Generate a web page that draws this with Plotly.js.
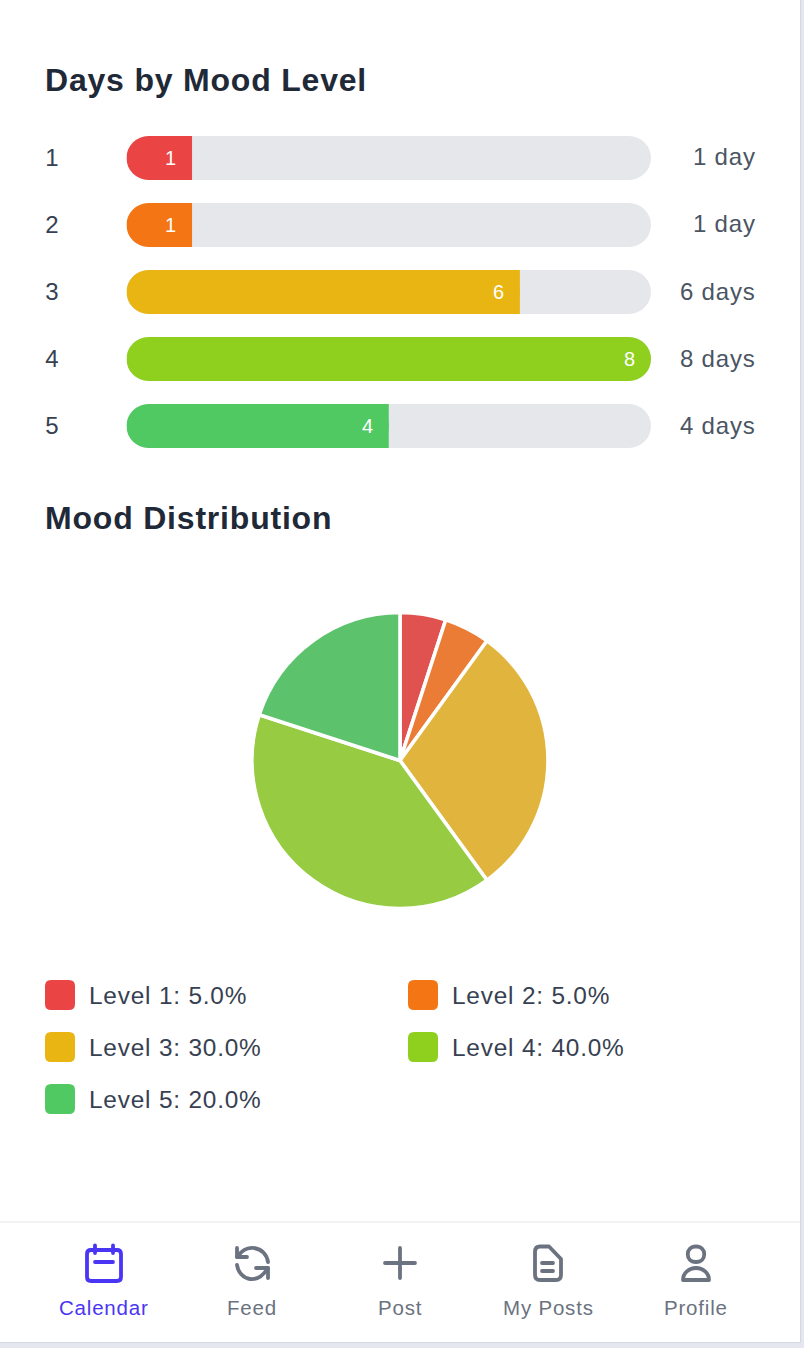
<!DOCTYPE html>
<html><head><meta charset="utf-8">
<script src="https://cdn.plot.ly/plotly-3.0.1.min.js"></script>
<style>html,body{margin:0;padding:0;background:#fff}#c{width:804px;height:1348px}svg text{letter-spacing:.8px}</style>
</head><body><div id="c"></div>
<script>
const W=804,H=1348;
const levels=['1','2','3','4','5'];
const dayCounts=[1,1,6,8,4];
const dayLabels=['1 day','1 day','6 days','8 days','4 days'];
const barColors=['#EA4444','#F47514','#E9B512','#8FD01F','#50C963'];
const pieColors=['#DF524F','#EB7C35','#E1B53D','#96CB42','#5CC26C'];
const legendLabels=['Level 1: 5.0%','Level 2: 5.0%','Level 3: 30.0%','Level 4: 40.0%','Level 5: 20.0%'];
const navLabels=['Calendar','Feed','Post','My Posts','Profile'];
const maxCount=8;
const FONT='"Liberation Sans", Arial, sans-serif';
const px=x=>x/W, py=y=>1-y/H;
const cmd=(c,...a)=>c+a.map((v,i)=>i%2==0?px(v):py(v)).join(',');
function rr(x0,y0,x1,y1,r){return [cmd('M',x0+r,y0),cmd('L',x1-r,y0),cmd('Q',x1,y0,x1,y0+r),cmd('L',x1,y1-r),cmd('Q',x1,y1,x1-r,y1),cmd('L',x0+r,y1),cmd('Q',x0,y1,x0,y1-r),cmd('L',x0,y0+r),cmd('Q',x0,y0,x0+r,y0),'Z'].join(' ');}
const CR=22;
const barBase={type:'bar',orientation:'h',hoverinfo:'skip',showlegend:false};
const traces=[];
traces.push({...barBase,y:levels,x:levels.map(()=>maxCount),base:levels.map(()=>0),marker:{color:'#E5E7EB',cornerradius:CR}});
traces.push({...barBase,y:levels,x:dayCounts,base:levels.map(()=>0),marker:{color:barColors,cornerradius:CR}});
const sq=levels.map((l,i)=>i).filter(i=>dayCounts[i]<maxCount);
traces.push({...barBase,y:sq.map(i=>levels[i]),x:sq.map(i=>dayCounts[i]/2),base:sq.map(i=>dayCounts[i]/2),marker:{color:sq.map(i=>barColors[i])}});
traces.push({type:'pie',values:dayCounts,labels:levels,sort:false,direction:'clockwise',rotation:0,textinfo:'none',hoverinfo:'skip',showlegend:false,
  marker:{colors:pieColors,line:{color:'#fff',width:3.6}},domain:{x:[px(252),px(548)],y:[py(908.5),py(612.5)]}});

const ann=[];
levels.forEach((l,i)=>{
  ann.push({xref:'x',yref:'y',x:dayCounts[i],y:i,text:String(dayCounts[i]),showarrow:false,xanchor:'right',xshift:-13,font:{family:FONT,size:20,color:'#fff'}});
  ann.push({xref:'paper',yref:'y',x:px(755),y:i,text:dayLabels[i],showarrow:false,xanchor:'right',xshift:3,yshift:1,font:{family:FONT,size:24,color:'#4B5563'}});
});
ann.push({xref:'paper',yref:'paper',x:px(45),y:py(518),text:'<b>Mood Distribution</b>',showarrow:false,xanchor:'left',yanchor:'middle',xshift:-2,font:{family:FONT,size:32,color:'#1F2937'}});
const shapes=[];
const legX=[45,408],legY=[995,1047,1099];
legendLabels.forEach((t,i)=>{
  const cx=legX[i%2],cy=legY[Math.floor(i/2)];
  shapes.push({type:'path',xref:'paper',yref:'paper',path:rr(cx,cy-15,cx+30,cy+15,6),fillcolor:barColors[i],line:{width:0}});
  ann.push({xref:'paper',yref:'paper',x:px(cx+44),y:py(cy),text:t,showarrow:false,xanchor:'left',yanchor:'middle',xshift:-2,font:{family:FONT,size:24.4,color:'#374151'}});
});
const frame='#E4E6F0',edge='#D6D8DF';
shapes.push({type:'rect',xref:'paper',yref:'paper',x0:px(800),x1:1,y0:0,y1:1,fillcolor:frame,line:{width:0}});
shapes.push({type:'rect',xref:'paper',yref:'paper',x0:0,x1:1,y0:0,y1:py(1342.5),fillcolor:frame,line:{width:0}});
shapes.push({type:'rect',xref:'paper',yref:'paper',x0:px(800),x1:px(801),y0:py(1343),y1:1,fillcolor:edge,line:{width:0}});
shapes.push({type:'rect',xref:'paper',yref:'paper',x0:0,x1:px(801),y0:py(1343),y1:py(1342),fillcolor:edge,line:{width:0}});
shapes.push({type:'rect',xref:'paper',yref:'paper',x0:0,x1:px(800),y0:py(1222.6),y1:py(1221.4),fillcolor:'#E5E7EB',line:{width:0}});
const navX=[104,252,400,548,696];
const P='#4B35F5',G='#6B7280';
navLabels.forEach((t,i)=>{
  ann.push({xref:'paper',yref:'paper',x:px(navX[i]),y:py(1307.5),text:t,showarrow:false,xanchor:'center',yanchor:'middle',font:{family:FONT,size:20.5,color:i==0?P:G}});
});
function icon(path,color,w){shapes.push({type:'path',xref:'paper',yref:'paper',path,fillcolor:'rgba(0,0,0,0)',line:{color,width:w||3.8}});}
icon(rr(87,1250,121,1281,4),P);
icon(cmd('M',95,1245.5)+' '+cmd('L',95,1253),P);
icon(cmd('M',113,1245.5)+' '+cmd('L',113,1253),P);
icon(cmd('M',95,1262)+' '+cmd('L',113,1262),P);
icon(cmd('M',237,1248)+' '+cmd('L',237,1257)+' '+cmd('L',247,1257),G);
icon(cmd('M',237,1257)+' '+cmd('C',242,1250,248,1247,254,1248)+' '+cmd('C',262,1249,267,1255,268,1262),G);
icon(cmd('M',268,1278)+' '+cmd('L',268,1268)+' '+cmd('L',256,1268),G);
icon(cmd('M',268,1268)+' '+cmd('C',263,1276,257,1280,250,1279)+' '+cmd('C',243,1278,238,1272,237,1265),G);
icon(cmd('M',400,1248)+' '+cmd('L',400,1278),G);
icon(cmd('M',385,1263)+' '+cmd('L',415,1263),G);
icon([cmd('M',540,1246.5),cmd('L',549,1246.5),cmd('L',561,1259),cmd('L',561,1275),cmd('Q',561,1280,556,1280),cmd('L',540,1280),cmd('Q',535,1280,535,1275),cmd('L',535,1252),cmd('Q',535,1246.5,540,1246.5),'Z'].join(' '),G);
icon(cmd('M',542,1263)+' '+cmd('L',553,1263),G);
icon(cmd('M',542,1271)+' '+cmd('L',553,1271),G);
icon([cmd('M',696,1246.5),cmd('C',707,1246.5,707,1262,696,1262),cmd('C',685,1262,685,1246.5,696,1246.5),'Z'].join(' '),G);
icon([cmd('M',683,1280),cmd('L',709,1280),cmd('C',709,1273,703,1268,696,1268),cmd('C',689,1268,683,1273,683,1280),'Z'].join(' '),G);

const layout={
  width:W,height:H,margin:{l:0,r:0,t:0,b:0},paper_bgcolor:'#fff',plot_bgcolor:'rgba(0,0,0,0)',
  barmode:'overlay',bargap:1-44/67,showlegend:false,
  title:{text:'<b>Days by Mood Level</b>',x:px(45),xanchor:'left',xref:'paper',yref:'paper',y:py(80),yanchor:'middle',font:{family:FONT,size:32,color:'#1F2937'}},
  xaxis:{domain:[px(126.5),px(651)],range:[0,maxCount],showgrid:false,zeroline:false,showline:false,showticklabels:false,ticks:'',fixedrange:true},
  yaxis:{domain:[py(459.5),py(124.5)],type:'category',categoryorder:'array',categoryarray:levels,range:[4.5,-0.5],showgrid:false,zeroline:false,showline:false,ticks:'',
    ticklabelstandoff:66,tickfont:{family:FONT,size:24,color:'#374151'},fixedrange:true},
  annotations:ann,shapes:shapes
};
Plotly.newPlot('c',traces,layout,{displayModeBar:false,staticPlot:true}).then(()=>{
  document.querySelectorAll('.shapelayer path').forEach(p=>{p.style.strokeLinecap='round';p.style.strokeLinejoin='round';});
  document.querySelectorAll('.bars path').forEach(p=>{p.style.shapeRendering='geometricPrecision';});
});
</script></body></html>
